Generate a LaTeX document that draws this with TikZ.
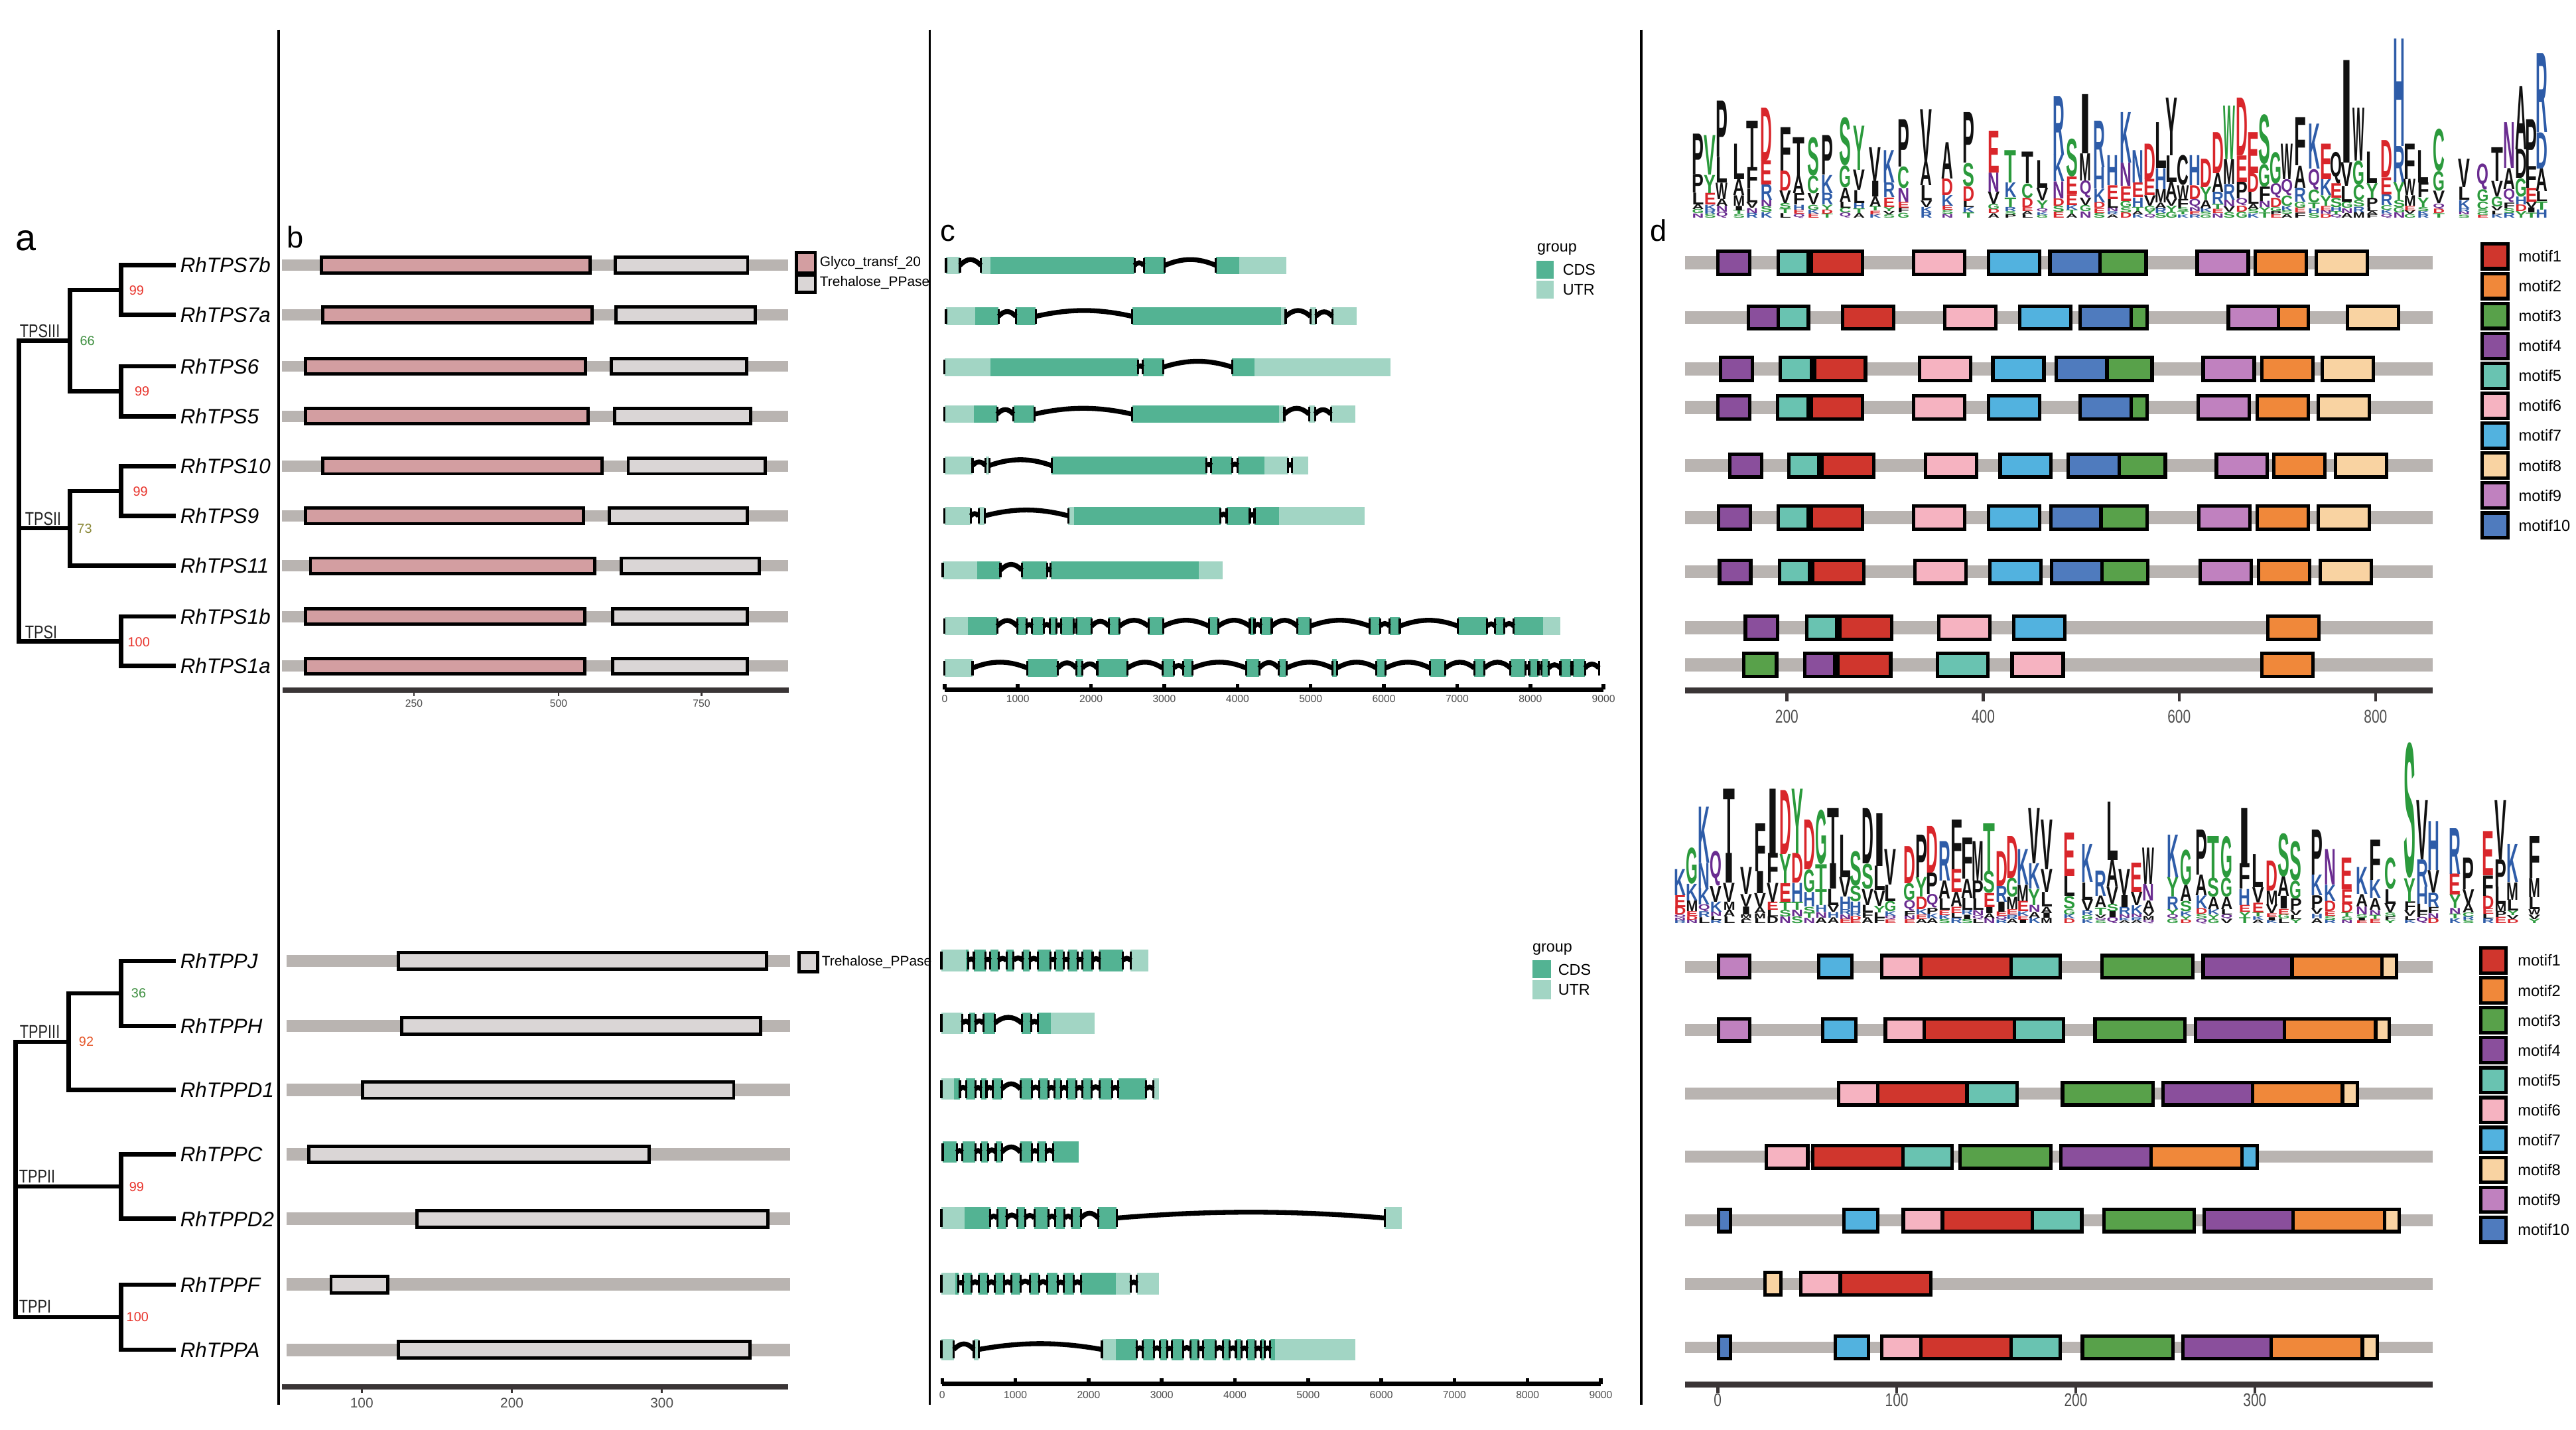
\documentclass[tikz,border=0pt]{standalone}
\usepackage{fontspec}
\setmainfont{Liberation Sans}
\usepackage{graphicx}
\definecolor{barc}{HTML}{B9B4B1}
\definecolor{glyco}{HTML}{D39EA1}
\definecolor{treh}{HTML}{DAD6D6}
\definecolor{C}{HTML}{53B393}
\definecolor{U}{HTML}{A2D5C4}
\definecolor{m1}{HTML}{D0362D}
\definecolor{m2}{HTML}{F0883A}
\definecolor{m3}{HTML}{58A14A}
\definecolor{m4}{HTML}{8A4F9C}
\definecolor{m5}{HTML}{69C3B1}
\definecolor{m6}{HTML}{F6B3C1}
\definecolor{m7}{HTML}{52B2DF}
\definecolor{m8}{HTML}{F9D3A2}
\definecolor{m9}{HTML}{C081BF}
\definecolor{m10}{HTML}{4F7BBE}
\definecolor{k}{HTML}{111111}
\definecolor{g}{HTML}{2B9A3C}
\definecolor{r}{HTML}{D9262B}
\definecolor{b}{HTML}{2E5CA8}
\definecolor{m}{HTML}{6A2C90}
\definecolor{bred}{HTML}{E8322A}
\definecolor{bgreen}{HTML}{3C8E3E}
\definecolor{bolive}{HTML}{8C8A3A}
\definecolor{borange}{HTML}{E65A2E}
\definecolor{axc}{HTML}{3A3536}
\definecolor{tlc}{HTML}{4D4D4D}
\newcommand\nrw[2][0.78]{\scalebox{#1}[1]{#2}}
% logo column: [fractions]{px}{total height}{letter/colour list bottom->top}
\newcommand\lgc[4][{0.05,0.05,0.06,0.14,0.22,0.48}]{%
  \pgfmathsetmacro\lgx{993.38+#2*0.3657-3.6}%
  \xdef\cy{\lgbase}%
  \foreach \lL/\lC [count=\qn] in {#4}{%
    \pgfmathsetmacro\fr{{#1}[\qn-1]}%
    \pgfmathsetmacro\hh{#3*\fr}%
    \pgfmathsetlengthmacro\LH{\hh*0.025cm}%
    \node[lg,text=\lC] at (\lgx,\cy) {\resizebox*{0.18cm}{\LH}{\bfseries\lL}};%
    \pgfmathsetmacro\ny{\cy-\hh}\global\let\cy\ny
  }}
\newcommand\gx[3]{\foreach \xa/\xb/\xt in {#3}{\fill[fill=\xt] (\xa,#1-#2) rectangle (\xb,#1+#2);}}
\newcommand\gi[3]{\foreach \xa/\xb in {#3}{%
  \pgfmathsetmacro\hh{1.05*min(4.5,0.1*(\xb-\xa))}%
  \pgfmathsetmacro\ca{\xa+0.35*(\xb-\xa)}\pgfmathsetmacro\cb{\xb-0.35*(\xb-\xa)}%
  \draw[intr] (\xa,#1) .. controls (\ca,#1-\hh) and (\cb,#1-\hh) .. (\xb,#1);%
  \draw[etick] (\xa,#1-#2) -- (\xa,#1+#2);\draw[etick] (\xb,#1-#2) -- (\xb,#1+#2);}}
\newcommand\mrow[4]{\fill[barc] (88,#1-#2) rectangle (1332,#1+#2);%
  \foreach \xa/\xb/\xc in {#4}{\draw[mbox,fill=m\xc] (\xa,#1-#3) rectangle (\xb,#1+#3);}}
\begin{document}
\begin{tikzpicture}[x=0.025cm,y=-0.025cm,
  trl/.style={line width=1.9pt,line join=miter},
  leaf/.style={anchor=west,inner sep=0,font=\fontsize{9}{10}\selectfont\itshape},
  boot/.style={inner sep=0,font=\fontsize{5.7}{6}\selectfont},
  clade/.style={anchor=south west,inner sep=0,font=\fontsize{8}{9}\selectfont,text=black!85},
  plab/.style={anchor=base west,inner sep=0,font=\fontsize{13}{15}\selectfont},
  sep/.style={line width=1pt,black},
  dom/.style={draw=black,line width=1.4pt},
  intr/.style={line width=2.1pt,line cap=butt},
  etick/.style={line width=0.9pt},
  mbox/.style={draw=black,line width=1.5pt},
  leg/.style={anchor=west,inner sep=0,font=\fontsize{6.7}{7}\selectfont},
  legs/.style={anchor=west,inner sep=0,font=\fontsize{6}{7}\selectfont},
  legm/.style={anchor=west,inner sep=0,font=\fontsize{6.8}{7}\selectfont},
  lg/.style={anchor=south west,inner sep=0,outer sep=0},
  ctl/.style={inner sep=0,font=\fontsize{4.5}{5}\selectfont,text=tlc},
  btl/.style={inner sep=0,font=\fontsize{6}{7}\selectfont,text=tlc},
  dtl/.style={inner sep=0,font=\fontsize{8}{9}\selectfont,text=tlc},
  baxis/.style={line width=2.3pt,axc},
  caxis/.style={line width=1.9pt,black},
  daxis/.style={line width=2.4pt,axc}]
\useasboundingbox (0,0) rectangle (1568,870);
\fill[white] (0,0) rectangle (1568,870);

% ---------- separators
\foreach \xs/\nm in {169.6/sA,566/sB,999/sC}{
  \coordinate (\nm t) at (\xs,18); \coordinate (\nm b) at (\xs,855);
  \draw[sep] (\nm t) -- (\nm b);}

% ---------- panel labels
\node[plab,font=\fontsize{16}{18}\selectfont] (pa) at (9.4,152.5) {a};
\node[plab] (pb) at (174.5,150.8) {b};
\node[plab] (pc) at (572,146.7) {c};
\node[plab] (pd) at (1004.3,146.7) {d};

% ---------- tree top
\foreach \nm/\yy/\tx in {t1/161.3/RhTPS7b,t2/191.6/RhTPS7a,t3/222.9/RhTPS6,t4/253.3/RhTPS5,t5/283.6/RhTPS10,t6/313.9/RhTPS9,t7/344.3/RhTPS11,t8/375.2/RhTPS1b,t9/405.3/RhTPS1a}{
  \coordinate (\nm) at (107,\yy);
  \node[leaf] (L\nm) at (109.5,\yy) {\tx};}
\coordinate (p12) at (73.8,176.45);
\coordinate (p34) at (73.8,238.1);
\coordinate (q1) at (42.5,207.3);
\coordinate (p56) at (73.8,298.75);
\coordinate (q2) at (42.5,321.5);
\coordinate (p89) at (73.8,390.25);
\coordinate (r1) at (11.5,321.5);
\draw[trl] (t1) -| (p12) |- (t2);
\draw[trl] (t3) -| (p34) |- (t4);
\draw[trl] (p12) -| (q1) |- (p34);
\draw[trl] (t5) -| (p56) |- (t6);
\draw[trl] (p56) -| (q2) |- (t7);
\draw[trl] (t8) -| (p89) |- (t9);
\draw[trl] (q1) -| (r1) |- (p89);
\draw[trl] (r1) -- (q2);
\node[boot,text=bred] (bs1) at (83.1,176.9) {99};
\node[boot,text=bgreen] (bs2) at (53.2,207.6) {66};
\node[boot,text=bred] (bs3) at (86.5,238.2) {99};
\node[boot,text=bred] (bs4) at (85.5,298.9) {99};
\node[boot,text=bolive] (bs5) at (51.5,321.6) {73};
\node[boot,text=bred] (bs6) at (84.5,390.9) {100};
\node[clade] (cl1) at (11.8,205.6) {\nrw{TPSIII}};
\node[clade] (cl2) at (15,319.9) {\nrw{TPSII}};
\node[clade] (cl3) at (15,389) {\nrw{TPSI}};

% ---------- tree bottom
\foreach \nm/\yy/\tx in {tJ/584.7/RhTPPJ,tH/624.3/RhTPPH,tDa/663.3/RhTPPD1,tC/702.4/RhTPPC,tDb/741.7/RhTPPD2,tF/781.7/RhTPPF,tA/821.4/RhTPPA}{
  \coordinate (\nm) at (107,\yy);
  \node[leaf] (L\nm) at (109.5,\yy) {\tx};}
\coordinate (pJH) at (73.8,604.5);
\coordinate (Q3) at (41.7,633.9);
\coordinate (pCD) at (73.8,722.05);
\coordinate (pFA) at (73.8,801.55);
\coordinate (R2) at (9.4,722.05);
\draw[trl] (tJ) -| (pJH) |- (tH);
\draw[trl] (pJH) -| (Q3) |- (tDa);
\draw[trl] (tC) -| (pCD) |- (tDb);
\draw[trl] (tF) -| (pFA) |- (tA);
\draw[trl] (Q3) -| (R2) |- (pFA);
\draw[trl] (R2) -- (pCD);
\node[boot,text=bgreen] (bs7) at (84.4,604.5) {36};
\node[boot,text=borange] (bs8) at (52.5,633.9) {92};
\node[boot,text=bred] (bs9) at (83.1,722.2) {99};
\node[boot,text=bred] (bs10) at (83.7,801.5) {100};
\node[clade] (cl4) at (11.8,632) {\nrw{TPPIII}};
\node[clade] (cl5) at (11.4,720.2) {\nrw{TPPII}};
\node[clade] (cl6) at (11.4,799.2) {\nrw{TPPI}};

% ---------- panel b top
\foreach \yy/\xa/\xb/\xc/\xd in {161.3/195.8/359.3/374.5/455.1,191.6/196.3/360.3/374.8/459.7,222.9/186/356.5/372.2/454.6,253.3/186/358/374.2/457,283.6/196.5/366.5/382.4/465.9,313.9/186/355/371/455,344.3/189/362/378/462,375.2/186/356/373/455,405.3/186/356/373/455}{
  \fill[barc] (171.8,\yy-3.4) rectangle (479.6,\yy+3.4);
  \draw[dom,fill=glyco] (\xa,\yy-4.7) rectangle (\xb,\yy+4.7);
  \draw[dom,fill=treh] (\xc,\yy-4.7) rectangle (\xd,\yy+4.7);}
\draw[dom,fill=glyco] (484.6,153.5) rectangle (496.3,166.3);
\draw[dom,fill=treh] (484.6,167.3) rectangle (496.3,177.7);
\node[legs] (lgA) at (498.8,160) {Glyco\_transf\_20};
\node[legs] (lgB) at (498.8,172) {Trehalose\_PPase};
\coordinate (bx1) at (172,420); \coordinate (bx2) at (480,420);
\draw[baxis] (bx1) -- (bx2);
\foreach \xx/\tx in {252/250,340/500,427/750}{
  \draw[axc,line width=0.8pt] (\xx,421) -- (\xx,423.5);
  \node[ctl] (bt\tx) at (\xx,428) {\tx};}

% ---------- panel b bottom
\foreach \yy/\xa/\xb in {584.7/242.6/466.7,624.3/244.5/462.8,663.3/220.8/446.6,702.4/187.8/395.3,741.7/253.7/467.5,781.7/201.5/236.2,821.4/242.6/456.4}{
  \fill[barc] (174.4,\yy-3.8) rectangle (480.9,\yy+3.8);
  \draw[dom,fill=treh] (\xa,\yy-5) rectangle (\xb,\yy+5);}
\draw[dom,fill=treh] (486.5,579.8) rectangle (497.6,591.2);
\node[legs] (lgC) at (500,585.5) {Trehalose\_PPase};
\coordinate (bx3) at (171.8,844); \coordinate (bx4) at (479.6,844);
\draw[baxis] (bx3) -- (bx4);
\foreach \xx/\tx in {220.2/100,311.6/200,402.9/300}{
  \draw[axc,line width=0.8pt] (\xx,845) -- (\xx,847.5);
  \node[btl] (bb\tx) at (\xx,853.6) {\tx};}

% ---------- panel c (gene structures)
\begin{scope}[xshift=13.9315cm,x=0.0070820cm]
% top rows
\gx{161.5}{5.4}{65/95/U,140/160/U,160/470/C,490/535/C,645/695/C,695/797/U}
\gi{161.5}{4.5}{95/140,470/490,535/645}
\gx{192.5}{5.4}{65/128/U,128/178/C,215/258/C,465/785/C,785/795/U,848/860/U,895/948/U}
\gi{192.5}{4.5}{178/215,258/465,795/848,860/895}
\gx{223.4}{5.4}{62/160/U,160/478/C,488/532/C,680/728/C,728/1020/U}
\gi{223.4}{4.5}{478/488,532/680}
\gx{252}{5.4}{62/125/U,125/175/C,210/255/C,465/780/C,780/792/U,845/858/U,892/945/U}
\gi{252}{4.5}{175/210,255/465,792/845,858/892}
\gx{283.3}{5.4}{62/122/U,150/158/U,292/625/C,635/680/C,692/750/C,750/800/U,808/843/U}
\gi{283.3}{4.5}{122/150,158/292,625/635,680/692,800/808}
\gx{313.9}{5.4}{62/118/U,135/148/U,328/340/U,340/655/C,668/718/C,728/780/C,780/965/U}
\gi{313.9}{4.5}{118/135,148/328,655/668,718/728}
\gx{347}{5.4}{58/132/U,132/182/C,228/282/C,290/608/C,608/660/U}
\gi{347}{4.5}{182/228,282/290}
\gx{381}{5.4}{62/112/U,112/175/C,218/238/C,250/275/C,288/303/C,312/340/C,345/378/C,415/438/C,500/532/C,630/650/C,718/728/C,742/765/C,820/848/C,975/998/C,1018/1040/C,1165/1228/C,1245/1265/C,1285/1348/C,1348/1385/U}
\gi{381}{4.5}{175/218,238/250,275/288,303/312,340/345,378/415,438/500,532/630,650/718,728/742,765/820,848/975,998/1018,1040/1165,1228/1245,1265/1285}
\gx{406.5}{5.4}{62/122/U,240/305/C,345/358/C,390/455/C,530/555/C,575/595/C,710/738/C,780/797/C,895/905/C,990/1010/C,1105/1138/C,1200/1222/C,1278/1310/C,1318/1338/C,1345/1360/C,1385/1408/C,1412/1438/C}
\gi{406.5}{4.5}{122/240,305/345,358/390,455/530,555/575,595/710,738/780,797/895,905/990,1010/1105,1138/1200,1222/1278,1310/1318,1338/1345,1360/1385,1408/1412,1438/1468}
\foreach \yy/\xs in {161.5/65,192.5/65,223.4/62,252/62,283.3/62,313.9/62,347/58,381/62,406.5/62}{
  \draw[etick] (\xs,\yy-4.5) -- (\xs,\yy+4.5);}
\coordinate (cx1) at (62,419.7); \coordinate (cx2) at (1478,419.7);
\draw[caxis] (cx1) -- (cx2);
\foreach \kk in {0,...,9}{
  \pgfmathsetmacro\xx{62+157.33*\kk}
  \pgfmathtruncatemacro\lab{\kk*1000}
  \draw[line width=1.6pt] (\xx,419.7) -- (\xx,416.3);
  \node[ctl] (ct\kk) at (\xx,425.4) {\lab};}
% bottom rows
\gx{584.5}{6.5}{55/108/U,108/113/C,125/150/C,160/178/C,195/210/C,230/245/C,262/290/C,300/318/C,328/348/C,358/380/C,395/445/C,462/500/U}
\gi{584.5}{5.5}{113/125,150/160,178/195,210/230,245/262,290/300,318/328,348/358,380/395,445/462}
\gx{622.6}{6.5}{55/100/U,115/128/C,145/170/C,228/248/C,262/290/C,290/385/U}
\gi{622.6}{5.5}{100/115,128/145,170/228,248/262}
\gx{662.7}{6.5}{55/82/U,82/95/C,108/128/C,140/152/C,165/185/C,225/250/C,265/285/C,298/312/C,325/345/C,358/378/C,395/422/C,435/495/C,510/522/U}
\gi{662.7}{5.5}{95/108,128/140,152/165,185/225,250/265,285/298,312/325,345/358,378/395,422/435,495/510}
\gx{701.1}{6.5}{58/88/C,100/128/C,140/155/C,172/185/C,225/250/C,262/280/C,295/350/C}
\gi{701.1}{5.5}{88/100,128/140,155/172,185/225,250/262,280/295}
\gx{741.2}{6.5}{55/105/U,105/160/C,175/195/C,218/235/C,255/285/C,300/320/C,335/355/C,392/432/C,1008/1045/U}
\gi{741.2}{5.5}{160/175,195/218,235/255,285/300,320/335,355/392,432/1008}
\gx{781.2}{6.5}{55/85/U,85/92/C,102/120/C,135/155/C,170/190/C,205/225/C,245/265/C,282/305/C,318/340/C,355/430/C,430/462/U,475/522/U}
\gi{781.2}{5.5}{92/102,120/135,155/170,190/205,225/245,265/282,305/318,340/355,462/475}
\gx{821.2}{6.5}{55/82/U,125/135/U,400/430/U,430/475/C,488/512/C,525/540/C,550/575/C,590/608/C,618/645/C,660/675/C,688/700/C,712/730/C,742/750/C,762/772/C,772/945/U}
\gi{821.2}{5.5}{82/125,135/400,475/488,512/525,540/550,575/590,608/618,645/660,675/688,700/712,730/742,750/762}
\foreach \yy/\xs in {584.5/55,622.6/55,662.7/55,701.1/58,741.2/55,781.2/55,821.2/55}{
  \draw[etick] (\xs,\yy-5.5) -- (\xs,\yy+5.5);}
\coordinate (cx3) at (57,842.2); \coordinate (cx4) at (1472,842.2);
\draw[caxis] (cx3) -- (cx4);
\foreach \kk in {0,...,9}{
  \pgfmathsetmacro\xx{57+157.22*\kk}
  \pgfmathtruncatemacro\lab{\kk*1000}
  \draw[line width=1.6pt] (\xx,842.2) -- (\xx,838.8);
  \node[ctl] (cb\kk) at (\xx,849) {\lab};}
\end{scope}
% c legends
\node[leg,anchor=base west] (cgA) at (935.4,153.4) {group};
\fill[C] (935.4,158.8) rectangle (945.9,169.6);
\fill[U] (935.4,170.9) rectangle (945.9,181.7);
\node[leg] (cgB) at (951,164.2) {CDS};
\node[leg] (cgC) at (951,176.3) {UTR};
\node[leg,anchor=base west] (cgD) at (932.6,579.2) {group};
\fill[C] (932.6,584.5) rectangle (944,595.4);
\fill[U] (932.6,596.6) rectangle (944,608);
\node[leg] (cgE) at (948.2,590) {CDS};
\node[leg] (cgF) at (948.2,602.3) {UTR};

% ---------- panel d motifs
\begin{scope}[xshift=24.8345cm,x=0.0091425cm]
\mrow{159.9}{4}{7}{142/195/4,243/293/5,298/383/1,468/553/6,593/678/7,695/778/10,778/855/3,940/1025/9,1037/1122/2,1138/1223/8}
\mrow{193.2}{4}{7}{193/243/4,243/293/5,350/435/1,520/605/6,645/730/7,745/830/10,830/857/3,992/1075/9,1075/1125/2,1190/1275/8}
\mrow{224.5}{4}{7}{147/200/4,246/298/5,303/388/1,478/563/6,600/685/7,705/790/10,790/865/3,950/1035/9,1048/1133/2,1148/1233/8}
\mrow{247.9}{4}{7}{142/195/4,242/293/5,298/383/1,468/553/6,593/678/7,745/830/10,830/857/3,942/1027/9,1040/1125/2,1142/1227/8}
\mrow{283.3}{4}{7}{162/215/4,260/310/5,315/402/1,488/573/6,612/697/7,725/810/10,810/887/3,972/1057/9,1068/1153/2,1170/1255/8}
\mrow{315.0}{4}{7}{143/196/4,243/293/5,298/383/1,468/553/6,593/678/7,697/780/10,780/857/3,943/1028/9,1040/1125/2,1142/1227/8}
\mrow{347.9}{4}{7}{145/197/4,245/295/5,300/385/1,470/555/6,595/680/7,698/782/10,782/858/3,945/1030/9,1042/1127/2,1145/1230/8}
\mrow{382}{4}{7}{188/242/4,290/340/5,345/432/1,510/595/6,635/720/7,1058/1143/2}
\mrow{404.7}{4}{7}{185/240/3,287/337/4,342/430/1,508/592/5,632/717/6,1048/1133/2}
\coordinate (dx1) at (88,420.2); \coordinate (dx2) at (1332,420.2);
\draw[daxis] (dx1) -- (dx2);
\foreach \xx/\tx in {257/200,584/400,910/600,1237/800}{
  \draw[axc,line width=1.3pt] (\xx,421) -- (\xx,426.7);
  \node[dtl] (dt\tx) at (\xx,436) {\nrw[0.75]{\tx}};}
\mrow{588.3}{3.6}{6.8}{143/195/9,310/365/7,415/480/6,480/630/1,630/712/5,782/933/3,950/1098/4,1098/1248/2,1248/1272/8}
\mrow{626.8}{3.6}{6.8}{143/195/9,317/372/7,421/486/6,486/636/1,636/718/5,770/920/3,937/1085/4,1085/1237/2,1237/1260/8}
\mrow{665.5}{3.6}{6.8}{343/408/6,408/557/1,557/640/5,716/867/3,883/1032/4,1032/1182/2,1182/1207/8}
\mrow{704}{3.6}{6.8}{223/292/6,300/450/1,450/532/5,545/697/3,713/863/4,863/1015/2,1015/1040/7}
\mrow{742.7}{3.6}{6.8}{143/163/10,352/408/7,451/516/6,516/666/1,666/748/5,785/935/3,952/1100/4,1100/1252/2,1252/1276/8}
\mrow{781.2}{3.6}{6.8}{221/247/8,280/346/6,346/497/1}
\mrow{819.9}{3.6}{6.8}{143/163/10,338/393/7,415/480/6,480/630/1,630/712/5,749/900/3,916/1063/4,1063/1215/2,1215/1240/8}
\coordinate (dx3) at (88,842.5); \coordinate (dx4) at (1332,842.5);
\draw[daxis] (dx3) -- (dx4);
\foreach \xx/\tx in {142/0,440/100,738/200,1036/300}{
  \draw[axc,line width=1.3pt] (\xx,843.5) -- (\xx,847.5);
  \node[dtl] (db\tx) at (\xx,852) {\nrw[0.75]{\tx}};}
\end{scope}
% d legends
\foreach \kk in {1,...,10}{
  \pgfmathsetmacro\yy{155.9+18.2*(\kk-1)}
  \draw[mbox,fill=m\kk] (1510.8,\yy-7.6) rectangle (1526.6,\yy+7.6);
  \node[legm] (dl\kk) at (1532.8,\yy) {motif\kk};
  \pgfmathsetmacro\yb{584.5+18.2*(\kk-1)}
  \draw[mbox,fill=m\kk] (1510,\yb-7.6) rectangle (1525.5,\yb+7.6);
  \node[legm] (dm\kk) at (1532.3,\yb) {motif\kk};}

% ---------- sequence logo top
\def\lgbase{132.6}
\lgc{110}{51}{N/m,G/g,A/k,L/k,P/k,P/k}
\lgc{130}{50}{S/g,R/b,K/b,E/r,Y/g,V/g}
\lgc{150}{71}{Q/m,N/m,A/k,W/k,L/k,P/k}
\lgc{178}{45}{S/g,T/g,I/k,M/k,A/k,L/k}
\lgc{200}{59}{R/b,N/m,V/k,L/k,F/k,T/k}
\lgc{224}{67}{K/b,S/g,N/m,R/b,E/r,D/r}
\lgc{255}{55}{L/k,T/g,S/g,V/k,D/r,F/k}
\lgc{278}{49}{Q/m,E/r,H/b,F/k,A/k,T/k}
\lgc{302}{49}{E/r,K/b,G/g,V/k,C/g,S/g}
\lgc{325}{50}{T/g,D/r,Y/g,R/b,K/b,P/k}
\lgc{355}{61}{Q/m,C/g,L/k,A/k,G/g,S/g}
\lgc{378}{56}{A/k,T/g,H/b,L/k,V/k,Y/g}
\lgc{405}{43}{K/b,E/r,T/g,A/k,I/k,V/k}
\lgc{428}{41}{S/g,V/k,Y/g,E/r,R/b,K/b}
\lgc{452}{60}{G/g,F/k,E/r,N/m,C/g,P/k}
\lgc{490}{66}{R/b,K/b,V/k,L/k,A/k,V/k}
\lgc{525}{46}{N/m,S/g,E/r,K/b,D/r,A/k}
\lgc{560}{64}{T/g,K/b,L/k,D/r,S/g,P/k}
\lgc{602}{53}{A/k,D/r,G/g,V/k,N/m,E/r}
\lgc{630}{41}{P/k,S/g,R/b,T/g,K/b,T/g}
\lgc{658}{40}{L/k,A/k,E/r,D/r,C/g,T/k}
\lgc{683}{35}{G/g,K/b,Q/m,Y/g,V/k,L/k}
\lgc{710}{74}{E/r,S/g,D/r,N/m,K/b,R/b}
\lgc{732}{48}{A/k,T/g,K/b,E/r,E/r,S/g}
\lgc{755}{75}{N/m,G/g,V/k,Q/m,M/k,I/k}
\lgc{778}{59}{S/g,E/r,D/r,K/b,H/b,R/b}
\lgc{800}{38}{A/k,R/b,N/m,L/k,E/r,H/b}
\lgc{822}{64}{D/r,S/g,G/g,E/r,N/m,K/b}
\lgc{842}{41}{K/b,A/k,T/g,H/b,E/r,N/b}
\lgc{862}{45}{Q/m,Y/g,G/g,V/k,E/r,D/r}
\lgc{880}{58}{S/g,R/b,A/k,M/k,H/b,L/k}
\lgc{898}{73}{G/g,Y/g,V/k,A/k,L/k,Y/k}
\lgc{917}{38}{K/b,T/g,S/g,F/k,W/k,C/k}
\lgc{937}{38}{R/b,E/r,N/m,Q/m,D/r,H/b}
\lgc{955}{36}{G/g,S/g,K/b,A/k,Y/g,D/r}
\lgc{975}{52}{N/m,E/r,T/g,R/b,A/k,D/r}
\lgc{994}{68}{S/g,V/k,N/m,R/b,M/k,W/g}
\lgc{1015}{73}{G/g,D/r,Q/m,P/k,E/r,D/r}
\lgc{1034}{52}{K/b,S/g,A/k,L/k,D/r,E/r}
\lgc{1053}{63}{T/g,Y/g,N/m,F/k,G/g,S/g}
\lgc{1072}{40}{E/r,P/k,G/g,D/r,Q/m,G/g}
\lgc{1090}{45}{A/k,S/g,K/b,C/g,Q/m,W/k}
\lgc{1112}{61}{F/k,E/r,G/g,R/b,A/k,F/k}
\lgc{1135}{57}{S/g,H/b,T/g,C/g,Q/m,K/b}
\lgc{1155}{45}{D/r,N/m,E/r,Y/g,K/b,E/r}
\lgc{1172}{40}{Q/m,T/g,H/b,S/g,E/r,Q/k}
\lgc[{0.03,0.03,0.04,0.1,0.15,0.65}]{1190}{96}{A/k,N/m,G/g,L/k,V/k,I/k}
\lgc{1210}{67}{M/k,R/b,S/g,C/g,G/g,W/k}
\lgc{1232}{40}{F/k,A/k,L/k,P/k,Y/g,L/k}
\lgc{1256}{47}{Q/m,K/b,C/g,R/b,E/r,D/r}
\lgc[{0.03,0.03,0.04,0.1,0.2,0.6}]{1277}{109}{N/m,G/g,S/g,Y/g,R/b,H/b}
\lgc{1295}{45}{G/g,V/k,E/r,M/k,W/k,F/k}
\lgc{1317}{41}{R/b,K/b,S/g,Y/g,F/k,L/k}
\lgc{1343}{54}{T/g,D/r,Q/m,V/k,G/g,C/g}
\lgc{1385}{36}{S/g,N/m,R/b,K/b,L/k,V/k}
\lgc{1416}{33}{E/r,G/g,S/g,C/g,G/g,Q/m}
\lgc{1440}{43}{K/b,L/k,V/k,G/g,V/k,T/k}
\lgc{1460}{58}{R/b,S/g,F/k,Q/m,A/k,N/m}
\lgc{1480}{80}{Y/g,D/r,H/b,G/g,D/k,A/k}
\lgc{1497}{60}{T/g,I/k,V/k,E/r,F/k,P/k}
\lgc{1514}{100}{H/b,T/g,L/k,A/k,D/b,R/b}

% ---------- sequence logo bottom
\def\lgbase{562}
\lgc{80}{33}{R/b,N/m,Q/m,D/r,E/r,K/b}
\lgc{100}{46}{N/m,D/r,E/r,M/k,K/b,G/g}
\lgc{120}{71}{L/k,R/b,Q/m,K/b,N/b,K/b}
\lgc{140}{44}{R/b,L/k,N/m,K/b,V/k,Q/m}
\lgc{162}{82}{L/k,A/k,M/k,V/k,I/k,T/k}
\lgc{190}{34}{L/k,A/k,M/k,I/k,V/k,V/k}
\lgc{213}{61}{L/k,M/k,A/k,V/k,I/k,F/k}
\lgc{234}{82}{D/k,L/k,E/r,V/k,F/k,I/k}
\lgc{255}{81}{N/m,S/g,T/g,E/r,Y/g,D/r}
\lgc{275}{82}{S/g,N/m,T/g,H/b,D/r,Y/g}
\lgc{295}{63}{N/m,T/g,S/g,H/b,G/g,D/r}
\lgc{315}{69}{A/k,N/m,H/b,T/g,T/g,G/g}
\lgc{335}{70}{A/k,H/b,V/k,L/k,I/k,T/k}
\lgc{355}{54}{E/r,N/m,R/b,H/b,V/k,L/k}
\lgc{372}{44}{E/r,D/r,R/b,H/b,S/g,S/g}
\lgc{392}{70}{A/k,F/k,L/k,V/k,S/g,D/k}
\lgc{412}{67}{F/k,L/k,Y/g,V/k,L/k,I/k}
\lgc{430}{45}{E/r,Q/m,K/b,G/g,L/k,V/k}
\lgc{462}{47}{E/r,N/m,F/k,Q/m,G/g,D/r}
\lgc{482}{54}{A/k,E/r,K/b,D/r,Y/g,P/k}
\lgc{500}{59}{A/k,K/b,P/k,Q/m,P/k,D/r}
\lgc{520}{50}{S/g,K/b,E/r,L/k,A/k,R/b}
\lgc{540}{63}{R/b,L/k,E/r,A/k,E/r,F/k}
\lgc{558}{52}{S/g,I/k,R/b,L/k,A/k,F/k}
\lgc{576}{50}{L/k,Q/m,N/m,L/k,P/k,M/k}
\lgc{595}{61}{N/m,A/k,I/k,E/r,S/g,T/g}
\lgc{615}{44}{R/b,Q/m,E/r,I/k,R/b,D/r}
\lgc{633}{53}{A/k,R/b,E/r,M/k,G/g,D/r}
\lgc{651}{45}{I/k,E/r,K/b,E/r,M/k,K/b}
\lgc{670}{70}{K/b,A/k,N/m,Y/g,K/b,V/k}
\lgc{690}{63}{M/k,I/k,A/k,L/k,V/k,V/k}
\lgc{728}{55}{D/r,K/b,G/g,S/g,L/k,E/r}
\lgc{758}{48}{K/b,G/g,R/b,V/k,L/k,K/b}
\lgc{780}{32}{S/g,Q/m,V/k,T/g,A/k,R/b}
\lgc{800}{74}{Q/m,I/k,S/g,V/k,A/k,L/k}
\lgc{820}{33}{A/k,K/b,N/m,R/b,I/k,V/k}
\lgc{840}{37}{A/k,R/b,N/m,K/b,V/k,E/r}
\lgc{860}{46}{Q/m,M/k,V/k,A/k,N/m,W/k}
\lgc{900}{54}{G/g,Q/m,Y/g,R/b,Y/g,K/b}
\lgc{922}{45}{D/r,Y/g,K/b,S/g,A/k,G/g}
\lgc{948}{57}{Q/m,S/g,D/r,K/b,A/k,P/k}
\lgc{968}{53}{G/g,Y/g,K/b,A/k,S/g,T/g}
\lgc{990}{53}{V/k,Q/m,L/k,A/k,G/g,G/g}
\lgc{1020}{70}{T/g,Y/g,E/r,H/b,F/k,I/k}
\lgc{1042}{42}{A/k,K/b,T/g,E/r,V/k,L/k}
\lgc{1065}{38}{K/b,I/k,E/r,V/k,M/k,D/r}
\lgc{1085}{55}{L/k,G/g,E/r,I/k,A/k,S/g}
\lgc{1105}{50}{Y/g,L/k,V/k,P/k,G/g,S/g}
\lgc{1140}{57}{A/k,H/b,V/k,P/k,K/b,P/k}
\lgc{1162}{45}{R/b,S/g,E/r,D/r,K/b,N/m}
\lgc{1190}{40}{N/m,S/g,T/g,D/r,E/r,E/r}
\lgc{1215}{34}{E/r,I/k,S/g,N/m,A/k,K/b}
\lgc{1237}{51}{E/r,T/g,N/m,A/k,K/b,F/k}
\lgc{1262}{40}{Y/g,F/k,S/g,V/k,L/k,C/g}
\lgc[{0.02,0.02,0.03,0.05,0.13,0.75}]{1295}{110}{K/b,L/k,V/k,F/k,Y/g,S/g}
\lgc{1315}{75}{Q/m,F/k,L/k,H/b,R/b,V/k}
\lgc{1334}{62}{D/r,N/m,F/k,R/b,V/k,H/b}
\lgc{1370}{58}{K/b,T/g,N/m,Y/g,E/r,R/b}
\lgc{1392}{40}{S/g,R/b,C/g,A/k,V/k,P/k}
\lgc{1425}{56}{R/b,L/k,E/r,D/r,F/k,E/r}
\lgc{1446}{75}{E/r,P/k,M/k,L/k,P/k,V/k}
\lgc{1466}{48}{D/r,V/k,Y/g,L/k,M/k,K/b}
\lgc{1502}{53}{Y/g,V/k,W/k,L/k,M/k,F/k}
\end{tikzpicture}
\end{document}
